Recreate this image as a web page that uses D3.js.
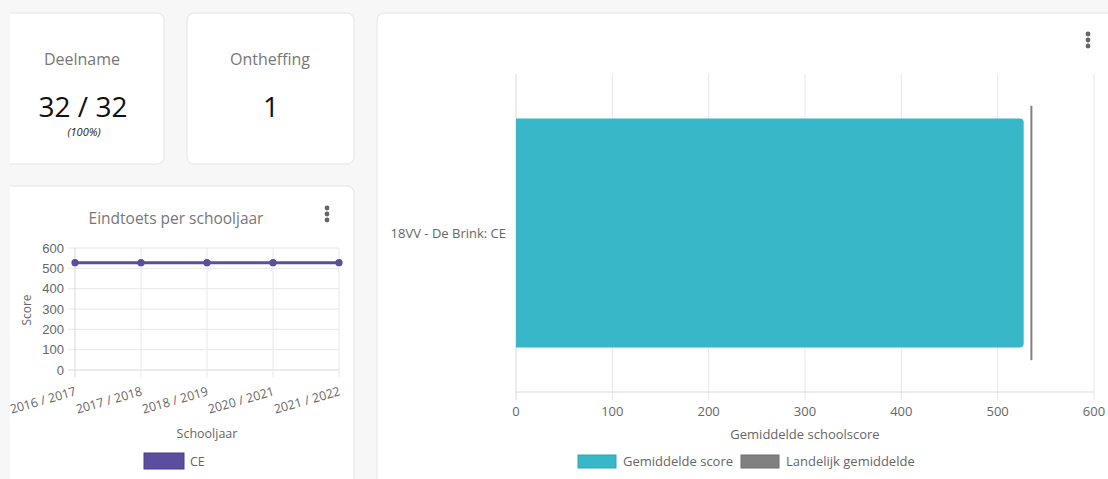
<!DOCTYPE html>
<html><head><meta charset="utf-8">
<script src="https://cdn.jsdelivr.net/npm/d3@7"></script>
<style>
body{margin:0;background:#f7f7f7;overflow:hidden}
svg{display:block;font-family:"Open Sans","Noto Sans",sans-serif}
</style></head>
<body><svg id="c" width="1108" height="479"></svg>
<script>
// ---- data ----
const schoolYears = ["2016 / 2017","2017 / 2018","2018 / 2019","2020 / 2021","2021 / 2022"];
const ceScores = [528, 528, 528, 528, 528];
const lineTicks = [0,100,200,300,400,500,600];
const barCategories = ["18VV - De Brink: CE"];
const schoolScore = [527];
const nationalAverage = [535];
const barTicks = [0,100,200,300,400,500,600];
const legendBar = ["Gemiddelde score","Landelijk gemiddelde"];
const legendLine = ["CE"];
const kpiLabels = ["Deelname","Ontheffing"];
const kpiValues = ["32 / 32","1"];
const kpiSub = ["(100%)",""];

const svg = d3.select("#c");
const grid = "#e8e8e8", tickCol = "#666", titleCol = "#777";
const purple = "#5d4d9f", teal = "#37b7c8", grey = "#808080";

// ---- cards ----
function card(x,y,w,h){
  svg.append("rect").attr("x",x).attr("y",y).attr("width",w).attr("height",h)
    .attr("rx",7).attr("fill","#fff").attr("stroke","#e4e4e4");
}
svg.append("clipPath").attr("id","lc").append("rect").attr("x",10).attr("y",0).attr("width",1200).attr("height",500);
const leftCards = svg.append("g").attr("clip-path","url(#lc)");
leftCards.append("rect").attr("x",-10).attr("y",13).attr("width",174).attr("height",151)
  .attr("rx",7).attr("fill","#fff").attr("stroke","#e4e4e4");
leftCards.append("rect").attr("x",-10).attr("y",186).attr("width",364).attr("height",320)
  .attr("rx",7).attr("fill","#fff").attr("stroke","#e4e4e4");
card(187,13,167,151);
card(377,13,760,500);

function kebab(x,y){
  svg.append("g").selectAll("circle").data([0,1,2]).join("circle")
    .attr("cx",x).attr("cy",d=>y+d*6).attr("r",2.4).attr("fill","#666");
}
kebab(327,208);
kebab(1088,34);

// KPI
const kpiX = [82,270];
kpiLabels.forEach((l,i)=>{
  svg.append("text").attr("x",kpiX[i]).attr("y",65).attr("text-anchor","middle")
    .attr("font-size",16).attr("fill",titleCol).text(l);
  svg.append("text").attr("x",kpiX[i]+1).attr("y",117).attr("text-anchor","middle")
    .attr("font-size",28).attr("fill","#111").text(kpiValues[i]);
  if(kpiSub[i]) svg.append("text").attr("x",kpiX[i]+2).attr("y",136).attr("text-anchor","middle")
    .attr("font-size",11).attr("font-style","italic").attr("fill","#222").text(kpiSub[i]);
});

// ---- line chart ----
svg.append("text").attr("x",176).attr("y",224).attr("text-anchor","middle")
  .attr("font-size",15.5).attr("fill",titleCol).text("Eindtoets per schooljaar");

const lx = d3.scalePoint().domain(schoolYears).range([75,339]);
const ly = d3.scaleLinear().domain([0,600]).range([370,248]);

const lg = svg.append("g");
lg.selectAll("line.h").data(lineTicks).join("line")
  .attr("x1",68).attr("x2",339).attr("y1",d=>ly(d)).attr("y2",d=>ly(d))
  .attr("stroke",d=>d===0?"#d8d8d8":grid);
lg.selectAll("line.v").data(schoolYears).join("line")
  .attr("x1",d=>lx(d)).attr("x2",d=>lx(d)).attr("y1",248).attr("y2",377)
  .attr("stroke",(d,i)=>i===0?"#d8d8d8":grid);
lg.selectAll("text.yt").data(lineTicks).join("text")
  .attr("x",64).attr("y",d=>ly(d)+4.5).attr("text-anchor","end")
  .attr("font-family","Liberation Sans, Arial, sans-serif")
  .attr("font-size",13).attr("fill",tickCol).text(d=>d);
lg.selectAll("text.xt").data(schoolYears).join("text")
  .attr("transform",d=>`translate(${lx(d)+2},${395}) rotate(-16)`)
  .attr("text-anchor","end").attr("font-size",12.5).attr("fill",tickCol).text(d=>d);
svg.append("text").attr("transform","translate(31,310) rotate(-90)").attr("text-anchor","middle")
  .attr("font-size",12).attr("fill",tickCol).text("Score");
svg.append("text").attr("x",207).attr("y",438).attr("text-anchor","middle")
  .attr("font-size",12.5).attr("fill",tickCol).text("Schooljaar");

const line = d3.line().x((d,i)=>lx(schoolYears[i])).y(d=>ly(d));
lg.append("path").datum(ceScores).attr("d",line).attr("fill","none")
  .attr("stroke",purple).attr("stroke-width",3);
lg.selectAll("circle").data(ceScores).join("circle")
  .attr("cx",(d,i)=>lx(schoolYears[i])).attr("cy",d=>ly(d)).attr("r",3.6).attr("fill",purple);

svg.append("rect").attr("x",144).attr("y",453).attr("width",40).attr("height",16)
  .attr("fill",purple).attr("stroke","#4a3c8a");
svg.append("text").attr("x",190).attr("y",466).attr("font-size",12.5).attr("fill",tickCol).text(legendLine[0]);

// ---- bar chart ----
const bx = d3.scaleLinear().domain([0,600]).range([516,1094]);
const by = d3.scaleBand().domain(barCategories).range([74,392]);
const bg = svg.append("g");
bg.selectAll("line.g").data(barTicks).join("line")
  .attr("x1",d=>bx(d)).attr("x2",d=>bx(d)).attr("y1",74).attr("y2",400)
  .attr("stroke",d=>d===0?"#d8d8d8":grid);
bg.append("line").attr("x1",516).attr("x2",1094).attr("y1",392).attr("y2",392).attr("stroke","#dcdcdc");
bg.selectAll("text.xt").data(barTicks).join("text")
  .attr("x",d=>bx(d)).attr("y",416).attr("text-anchor","middle")
  .attr("font-size",13).attr("fill",tickCol).text(d=>d);
bg.selectAll("text.yt").data(barCategories).join("text")
  .attr("x",506).attr("y",d=>by(d)+by.bandwidth()/2+4.5).attr("text-anchor","end")
  .attr("font-size",13).attr("fill",tickCol).text(d=>d);
svg.append("text").attr("x",805).attr("y",439).attr("text-anchor","middle")
  .attr("font-size",13).attr("fill",tickCol).text("Gemiddelde schoolscore");

const bw = by.bandwidth()*0.72, lw = by.bandwidth()*0.8;
barCategories.forEach((c,i)=>{
  const cy = by(c)+by.bandwidth()/2;
  const x0 = bx(0), x1 = bx(schoolScore[i]), r = 4;
  const y0 = cy-bw/2, y1 = cy+bw/2;
  bg.append("path").attr("fill",teal)
    .attr("d",`M${x0},${y0}H${x1-r}Q${x1},${y0} ${x1},${y0+r}V${y1-r}Q${x1},${y1} ${x1-r},${y1}H${x0}Z`);
  bg.append("line").attr("x1",bx(nationalAverage[i])).attr("x2",bx(nationalAverage[i]))
    .attr("y1",cy-lw/2).attr("y2",cy+lw/2).attr("stroke",grey).attr("stroke-width",2);
});

const legX = [578,741], legC = [teal,grey];
legendBar.forEach((l,i)=>{
  svg.append("rect").attr("x",legX[i]).attr("y",455).attr("width",38).attr("height",13)
    .attr("fill",legC[i]).attr("stroke",i?"#6e6e6e":"#2fa5b5");
  svg.append("text").attr("x",legX[i]+45).attr("y",466).attr("font-size",13).attr("fill",tickCol).text(l);
});
</script></body></html>
